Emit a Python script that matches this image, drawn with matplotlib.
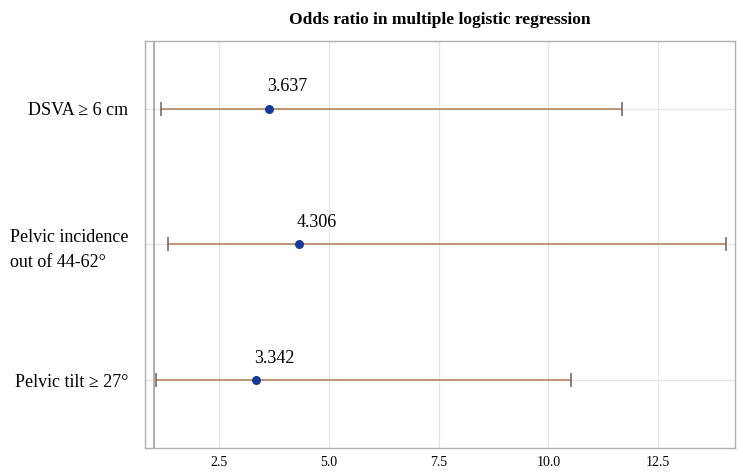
import numpy as np
import matplotlib.pyplot as plt

# odds ratios and 95% CI
labels = ['DSVA ≥ 6 cm', 'Pelvic incidence\nout of 44-62°', 'Pelvic tilt ≥ 27°']
odds = [3.637, 4.306, 3.342]
ci_low = [1.16, 1.32, 1.05]
ci_high = [11.68, 14.05, 10.52]

plt.rcParams['font.family'] = ['Liberation Serif', 'DejaVu Serif']

fig = plt.figure(figsize=(7.43, 4.75), dpi=100)
ax = fig.add_axes([0.195, 0.057, 0.794, 0.857])

y = np.arange(len(labels))[::-1]
odds = np.array(odds)
err = [odds - np.array(ci_low), np.array(ci_high) - odds]

# reference line at OR = 1
ax.axvline(1, color='#a8a8a8', lw=1.3, zorder=1)

_, caps, bars = ax.errorbar(odds, y, xerr=err, fmt='none', ecolor='#b48462',
                            elinewidth=1.2, capsize=5, capthick=1.2, zorder=2)
for c in caps:
    c.set_markeredgecolor('#7a6a66')
ax.scatter(odds, y, s=30, color='#173a94', zorder=3)

for xi, yi in zip(odds, y):
    ax.text(xi - 0.05, yi + 0.1, '%.3f' % xi, fontsize=13, ha='left', va='bottom')

ax.set_xlim(0.8, 14.25)
ax.set_ylim(-0.5, 2.5)
ax.set_xticks([2.5, 5.0, 7.5, 10.0, 12.5])
ax.set_yticks(y)
ax.set_yticklabels(labels, fontsize=13)
for lbl in ax.get_yticklabels():
    lbl.set_multialignment('left')
    lbl.set_linespacing(1.6)
ax.tick_params(axis='x', labelsize=10, length=0, pad=6)
ax.tick_params(axis='y', length=0, pad=12)

ax.grid(True, color='#e6e6e6', lw=0.9)
ax.set_axisbelow(True)
for s in ax.spines.values():
    s.set_color('#b0b0b0')
    s.set_linewidth(1.0)

ax.set_title('Odds ratio in multiple logistic regression', fontsize=12.5,
             fontweight='bold', pad=12)

fig.savefig('out.png', dpi=100)
